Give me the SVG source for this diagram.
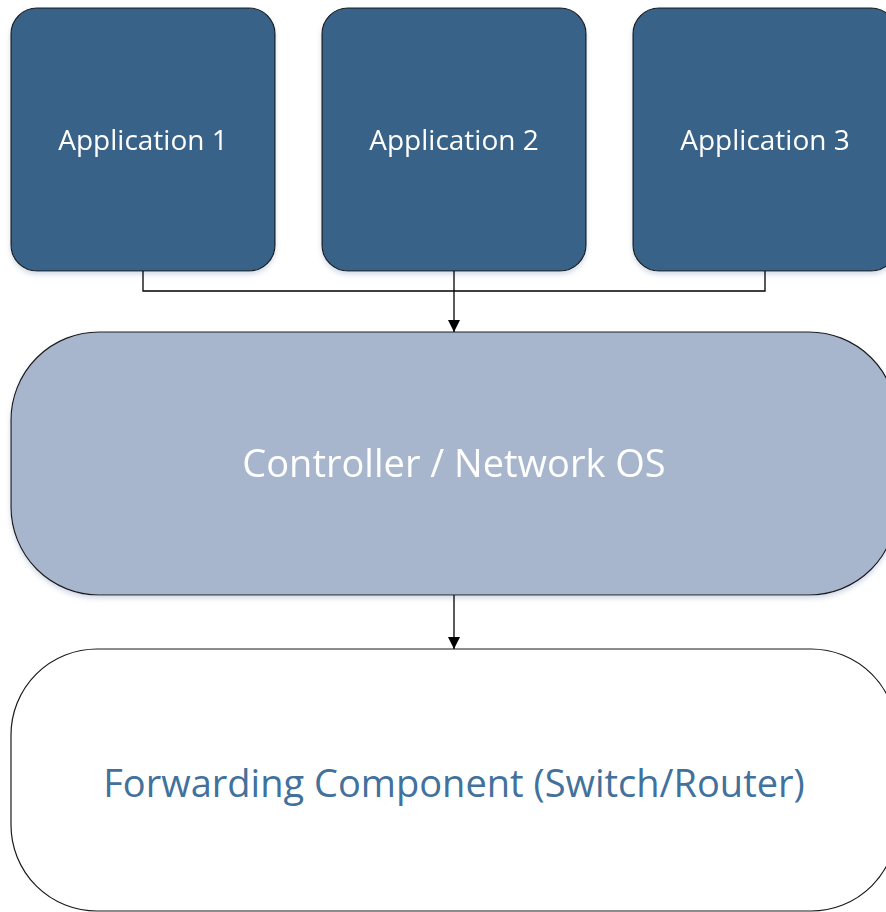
<svg xmlns="http://www.w3.org/2000/svg" width="886" height="912" viewBox="0 0 886 912">
  <defs>
    <filter id="shadow" x="-10%" y="-10%" width="120%" height="120%">
      <feGaussianBlur in="SourceAlpha" stdDeviation="2.5"/>
      <feOffset dx="0" dy="3" result="b"/>
      <feFlood flood-color="#9fb0c8" flood-opacity="0.45"/>
      <feComposite in2="b" operator="in"/>
      <feMerge><feMergeNode/><feMergeNode in="SourceGraphic"/></feMerge>
    </filter>
    <marker id="arrow" viewBox="0 0 10 10" refX="10" refY="5" markerWidth="12" markerHeight="12" markerUnits="userSpaceOnUse" orient="auto">
      <path d="M0,0 L10,5 L0,10 Z" fill="#000"/>
    </marker>
  </defs>
  <style>
    .app rect { fill: #376288; stroke: #1a1a1a; stroke-width: 1.2; }
    .app text { fill: #ffffff; font-family: "Open Sans", "Noto Sans", sans-serif; font-size: 28px; text-anchor: middle; }
    .ctrl rect { fill: #a7b6cd; stroke: #1a1a1a; stroke-width: 1.2; }
    .ctrl text { fill: #ffffff; font-family: "Open Sans", "Noto Sans", sans-serif; font-size: 38px; text-anchor: middle; }
    .fwd rect { fill: #ffffff; stroke: #1a1a1a; stroke-width: 1.2; }
    .fwd text { fill: #41719c; font-family: "Open Sans", "Noto Sans", sans-serif; font-size: 38px; text-anchor: middle; }
    .conn { fill: none; stroke: #000; stroke-width: 1.3; }
  </style>
  <rect width="886" height="912" fill="#ffffff"/>

  <g id="app1" class="app" filter="url(#shadow)">
    <rect x="11" y="8" width="264" height="263" rx="26"/>
    <text x="143" y="150">Application 1</text>
  </g>
  <g id="app2" class="app" filter="url(#shadow)">
    <rect x="322" y="8" width="264" height="263" rx="26"/>
    <text x="454" y="150">Application 2</text>
  </g>
  <g id="app3" class="app" filter="url(#shadow)">
    <rect x="633" y="8" width="264" height="263" rx="26"/>
    <text x="765" y="150">Application 3</text>
  </g>

  <g id="controller" class="ctrl" filter="url(#shadow)">
    <rect x="11" y="332" width="886" height="263" rx="88"/>
    <text x="454" y="477">Controller / Network OS</text>
  </g>

  <g id="forwarding" class="fwd">
    <rect x="11" y="649" width="886" height="262" rx="86"/>
    <text x="454" y="797">Forwarding Component (Switch/Router)</text>
  </g>

  <g id="connectors">
    <path class="conn" d="M143,271 V291 H765 V271"/>
    <path class="conn" d="M454,271 V332" marker-end="url(#arrow)"/>
    <path class="conn" d="M454,595 V649" marker-end="url(#arrow)"/>
  </g>
</svg>
